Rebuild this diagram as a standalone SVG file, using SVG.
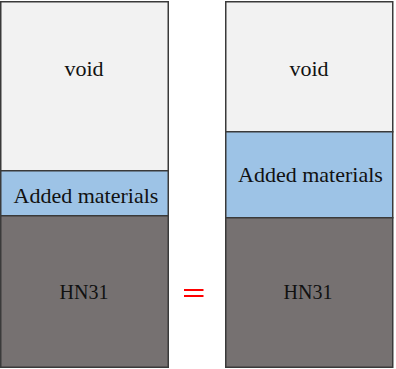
<svg xmlns="http://www.w3.org/2000/svg" width="396" height="369" viewBox="0 0 396 369">
<style>
.box{stroke:#3a3a3a;stroke-width:1.5}
.void{fill:#f2f2f2}
.added{fill:#9dc3e6}
.base{fill:#767171}
text{font-family:"Liberation Serif","Times New Roman",serif;font-size:22px;fill:#111;text-anchor:middle}
.eq{stroke:#ff0000;stroke-width:2}
</style>
<rect width="396" height="369" fill="#ffffff"/>
<g id="left">
<g id="left-void"><rect class="box void" x="0.75" y="1.75" width="167.5" height="169"/><text x="84" y="76">void</text></g>
<g id="left-added"><rect class="box added" x="0.75" y="170.75" width="167.5" height="45"/><text x="86" y="203">Added materials</text></g>
<g id="left-hn31"><rect class="box base" x="0.75" y="215.75" width="167.5" height="151.5"/><text x="84" y="299" style="font-size:20px">HN31</text></g>
</g>
<g id="right">
<g id="right-void"><rect class="box void" x="225.75" y="1.75" width="167" height="130"/><text x="309" y="76">void</text></g>
<g id="right-added"><rect class="box added" x="225.75" y="131.75" width="167" height="86"/><text x="310.5" y="182">Added materials</text></g>
<g id="right-hn31"><rect class="box base" x="225.75" y="217.75" width="167" height="149.5"/><text x="308" y="299" style="font-size:20px">HN31</text></g>
</g>
<g id="connectors">
<line class="eq" x1="184" y1="290" x2="203.5" y2="290"/>
<line class="eq" x1="184" y1="296" x2="203.5" y2="296"/>
</g>
</svg>
